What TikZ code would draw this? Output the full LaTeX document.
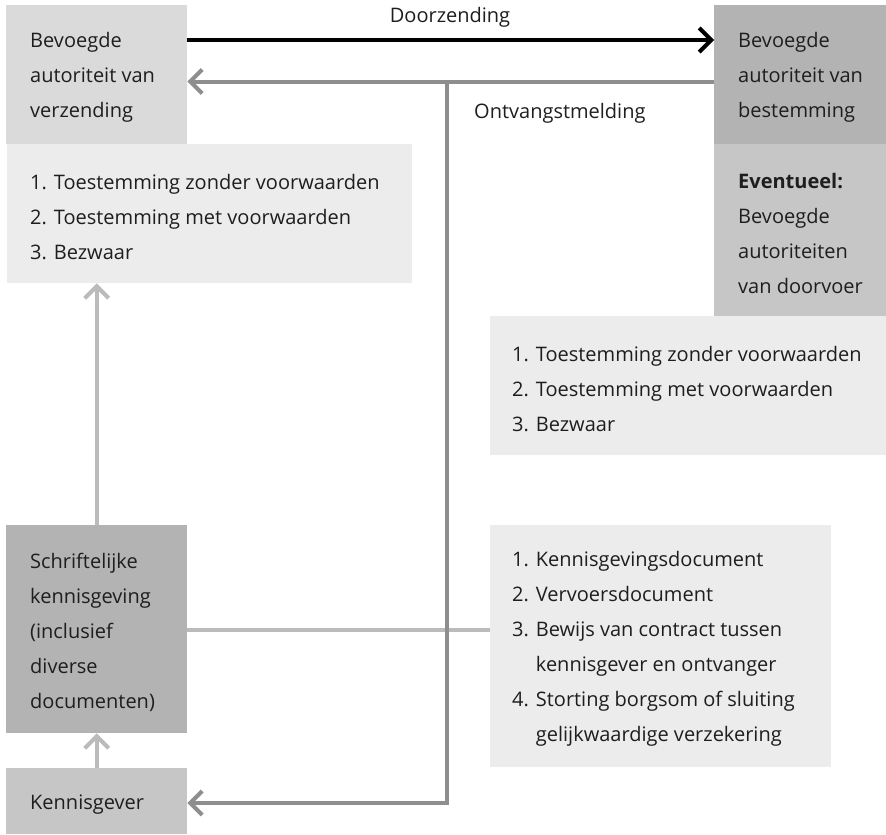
\documentclass[tikz,border=0pt]{standalone}
\usepackage{fontspec}
\setmainfont{Open Sans}
\usetikzlibrary{arrows.meta}
\definecolor{fillpale}{HTML}{ECECEC}
\definecolor{filllight}{HTML}{DADADA}
\definecolor{fillmid}{HTML}{C6C6C6}
\definecolor{filldark}{HTML}{B3B3B3}
\definecolor{linedark}{HTML}{8E8E8E}
\definecolor{linelight}{HTML}{BBBBBB}
\definecolor{ink}{HTML}{1E1E1E}
\begin{document}
\begin{tikzpicture}[x=1pt,y=-1pt,
  box/.style={anchor=north west, inner sep=0pt, draw=none},
  txt/.style={anchor=west, inner sep=0pt, align=left, yshift=-3pt,
    font=\fontsize{20}{35}\selectfont, text=ink},
  lbl/.style={font=\fontsize{20}{24}\selectfont, text=ink, inner sep=0pt},
  tip/.style={-{Straight Barb[length=12pt,width=24pt]}},
  blackflow/.style={line width=4pt, black, tip},
  darkflow/.style={line width=4pt, linedark},
  lightflow/.style={line width=4pt, linelight}]
\useasboundingbox (0,0) rectangle (886,835);

% boxes
\node[box, fill=filllight, minimum width=181pt, minimum height=139pt] (A) at (6,5) {};
\node[box, fill=fillpale,  minimum width=405pt, minimum height=139pt] (L1) at (7,144) {};
\node[box, fill=filldark,  minimum width=172pt, minimum height=139pt] (B) at (714,5) {};
\node[box, fill=fillmid,   minimum width=172pt, minimum height=172pt] (C) at (714,144) {};
\node[box, fill=fillpale,  minimum width=396pt, minimum height=139pt] (L2) at (490,316) {};
\node[box, fill=filldark,  minimum width=181pt, minimum height=208pt] (D) at (6,525) {};
\node[box, fill=fillmid,   minimum width=181pt, minimum height=66pt]  (E) at (6,768) {};
\node[box, fill=fillpale,  minimum width=341pt, minimum height=242pt] (L3) at (490,525) {};

% box texts
\node[txt, xshift=24pt] (tA) at (A.west) {Bevoegde\\autoriteit van\\verzending};
\node[txt, xshift=23pt] (tL1) at (L1.west)
  {1. Toestemming zonder voorwaarden\\2. Toestemming met voorwaarden\\3. Bezwaar};
\node[txt, xshift=24pt] (tB) at (B.west) {Bevoegde\\autoriteit van\\bestemming};
\node[txt, xshift=24pt] (tC) at (C.west) {\textbf{Eventueel:}\\Bevoegde\\autoriteiten\\van doorvoer};
\node[txt, xshift=22pt] (tL2) at (L2.west)
  {1. Toestemming zonder voorwaarden\\2. Toestemming met voorwaarden\\3. Bezwaar};
\node[txt, xshift=24pt] (tD) at (D.west)
  {Schriftelijke\\kennisgeving\\(inclusief\\diverse\\documenten)};
\node[txt, xshift=24pt] (tE) at (E.west) {Kennisgever};
\node[txt, xshift=22pt] (tL3) at (L3.west)
  {1. Kennisgevingsdocument\\2. Vervoersdocument\\3. Bewijs van contract tussen\\
   \phantom{3. }kennisgever en ontvanger\\4. Storting borgsom of sluiting\\
   \phantom{4. }gelijkwaardige verzekering};

% labels
\node[lbl, anchor=base] (lD) at (450,22) {Doorzending};
\node[lbl, anchor=base west] (lO) at (474,118) {Ontvangstmelding};

% routing points
\coordinate (yFwd) at (0,40);
\coordinate (jTop) at (447,81.5);
\coordinate (jBot) at (447,803);
\coordinate (yDoc) at (0,629.5);

% light connectors
\draw[lightflow] (D.east |- yDoc) -- (L3.west |- yDoc);
\draw[lightflow, tip] (D.north) -- (D.north |- L1.south);
\draw[lightflow, tip] (E.north) -- (D.south);

% forwarding
\draw[blackflow] (A.east |- yFwd) -- (B.west |- yFwd);

% acknowledgement of receipt
\draw[darkflow] (B.west |- jTop) -- (jTop);
\draw[darkflow, tip] (jTop) -- (A.east |- jTop);
\draw[darkflow, tip, line join=miter] (jTop) -- (jBot) -- (E.east |- jBot);
\end{tikzpicture}
\end{document}
